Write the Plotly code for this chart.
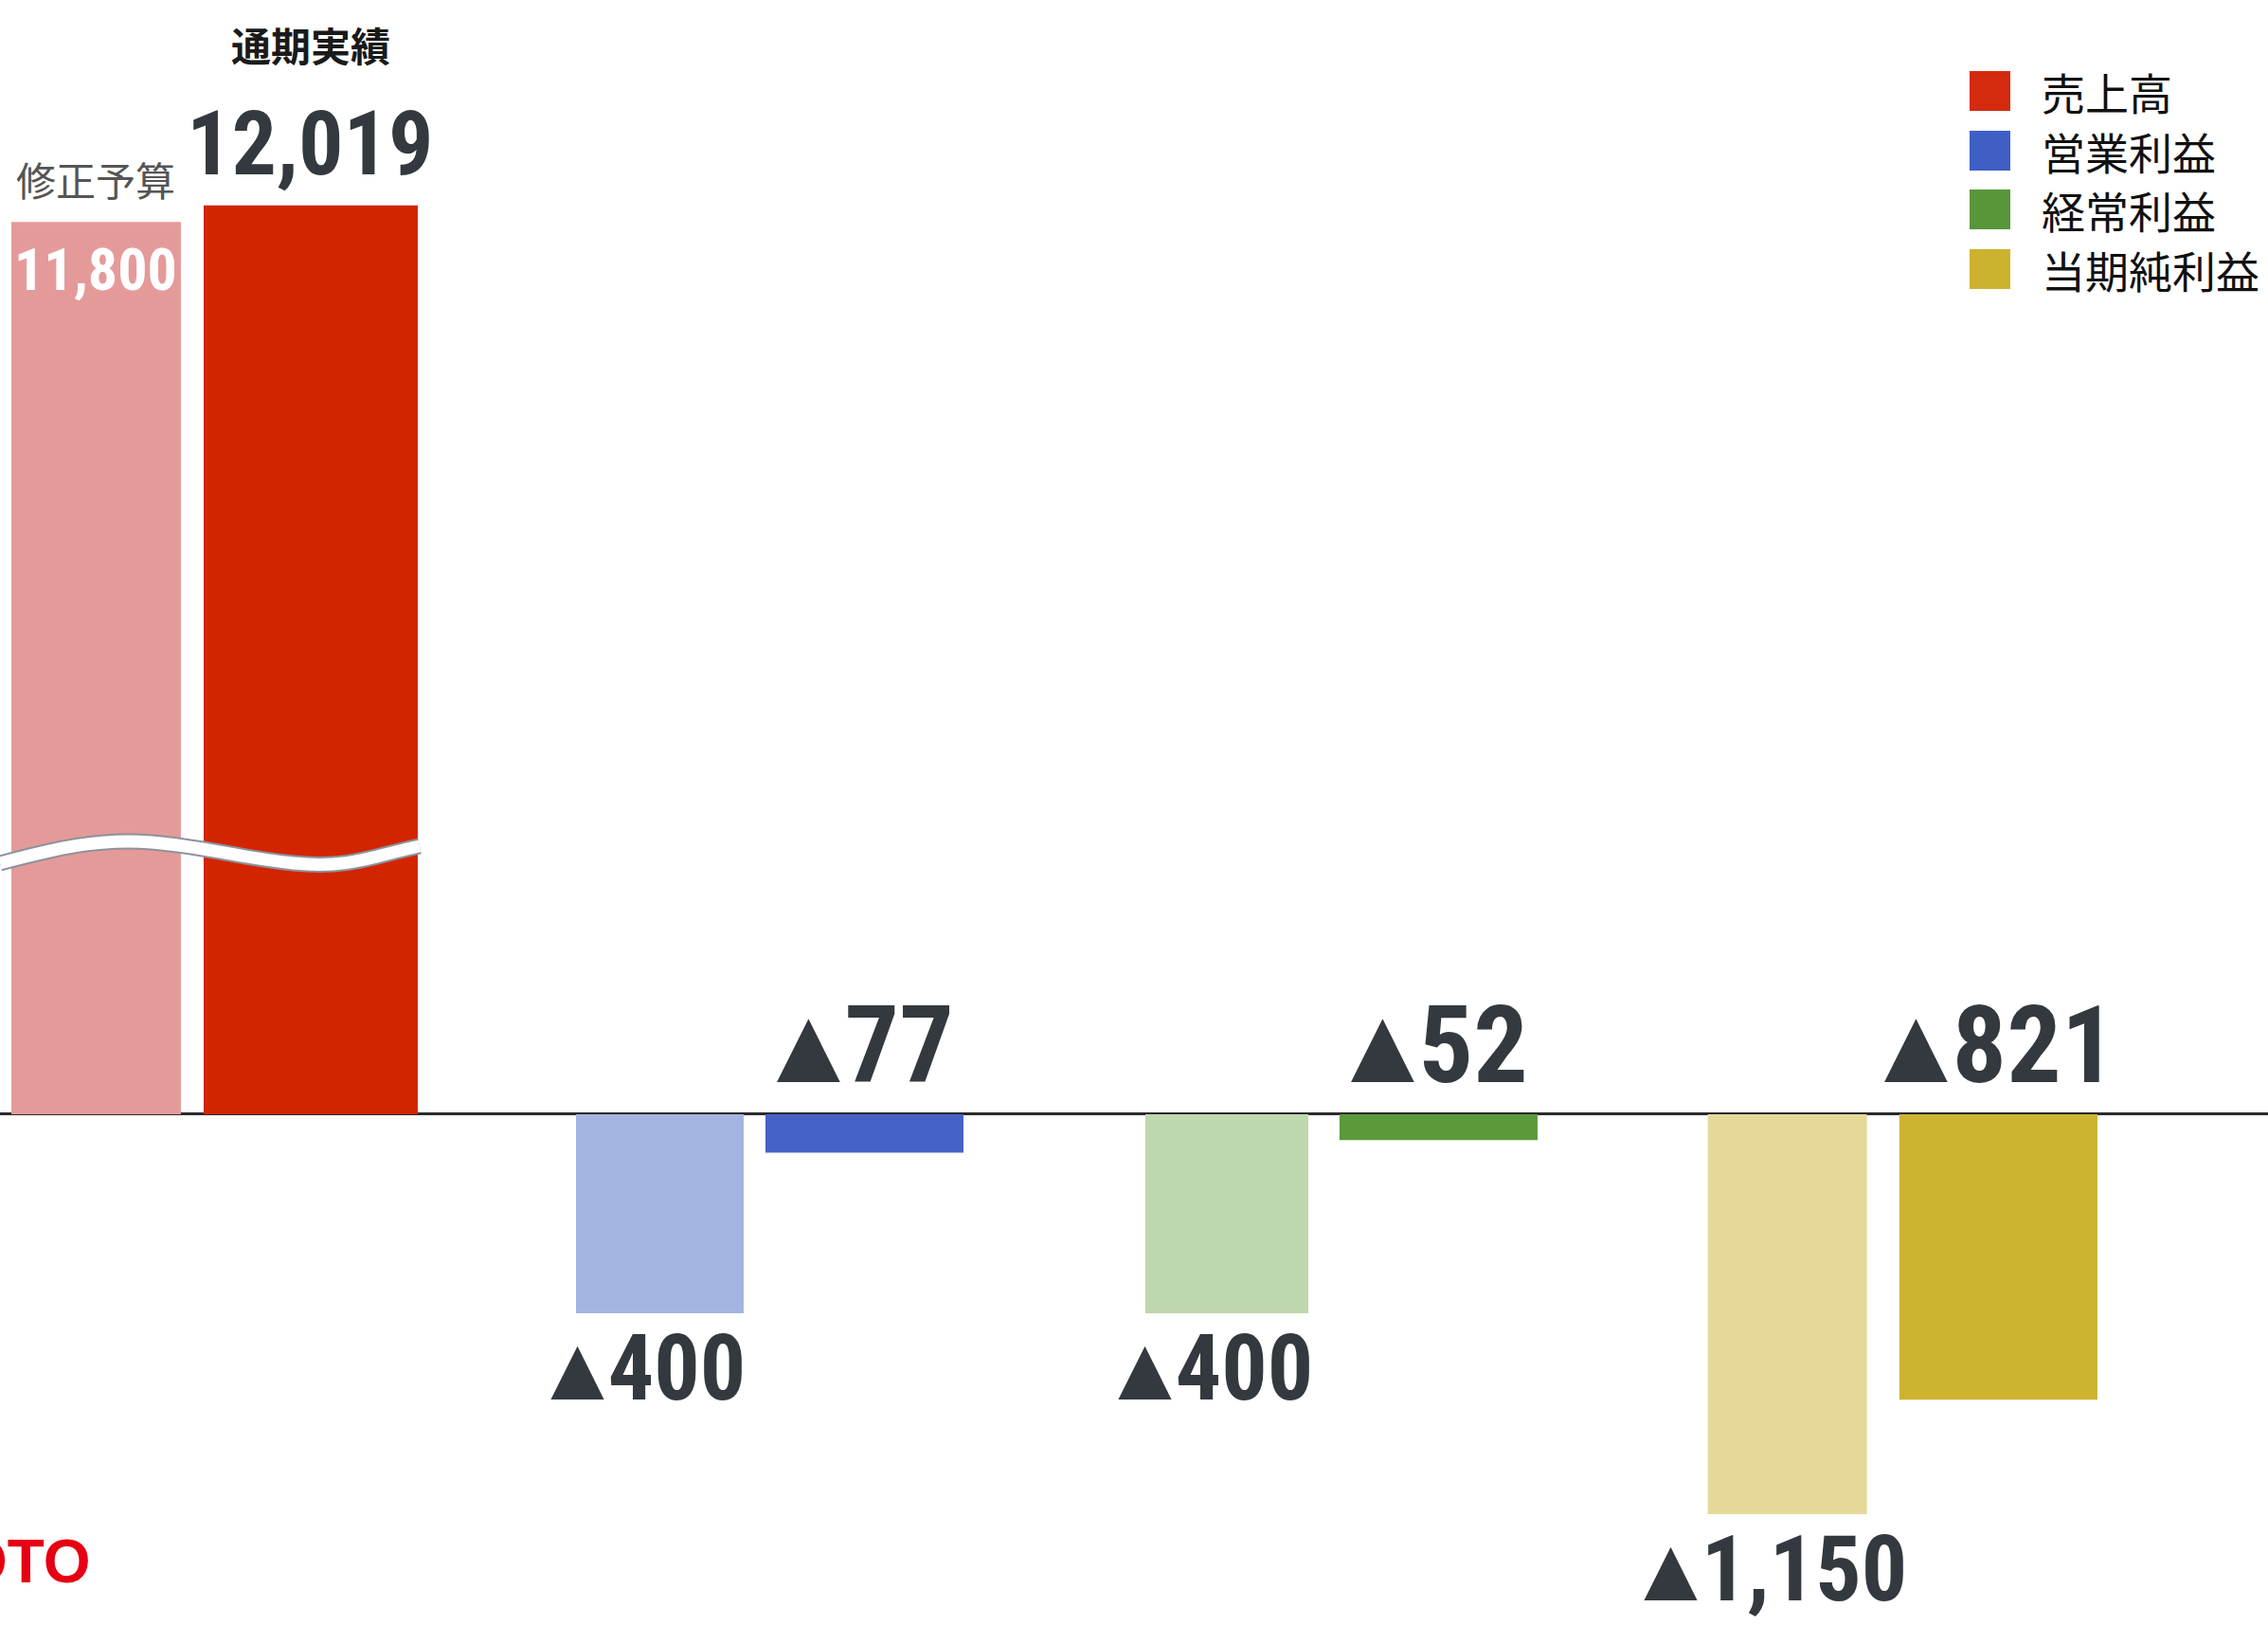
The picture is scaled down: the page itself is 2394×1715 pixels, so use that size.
import plotly.graph_objects as go

# ---------------- data ----------------
categories = ["売上高", "営業利益", "経常利益", "当期純利益"]
budget = [11800, -400, -400, -1150]      # 修正予算
actual = [12019, -77, -52, -821]         # 通期実績
budget_name = "修正予算"
actual_name = "通期実績"
legend_names = ["売上高", "営業利益", "経常利益", "当期純利益"]

# ---------------- styles ----------------
W, H = 2394, 1715
budget_colors = ["#E59A9A", "#A4B4E1", "#BFD7AC", "#E5D899"]
actual_colors = ["#D32400", "#4462C7", "#5A9A3A", "#CDB330"]
legend_colors = ["#D42A0E", "#3F5FC4", "#58963A", "#CDB22F"]
axis_of = ["y2", "y", "y", "y3"]          # 売上高 uses a broken (own) scale
budget_offset = [-0.3585, -0.3548, -0.3426, -0.3429]
budget_width = [0.3014, 0.2981, 0.2897, 0.2829]
actual_offset = [-0.0167, -0.0180, 0.0025, -0.0022]
actual_width = [0.3806, 0.3520, 0.3520, 0.3520]

NUM_FONT = "Roboto Condensed, Liberation Sans Narrow, Roboto, sans-serif"
CJK_FONT = "Noto Sans CJK JP, sans-serif"
DARK = "#33393E"


def fmt(v):
    txt = f"{abs(v):,}"
    if v < 0:
        return "<span style='letter-spacing:-0.16em'>▲</span>" + txt
    return txt


fig = go.Figure()
for i, cat in enumerate(categories):
    fig.add_trace(go.Bar(
        x=[cat], y=[budget[i]], yaxis=axis_of[i], name=budget_name,
        offset=budget_offset[i], width=budget_width[i],
        marker=dict(color=budget_colors[i], line=dict(width=0)),
        showlegend=False, hoverinfo="x+y"))
    fig.add_trace(go.Bar(
        x=[cat], y=[actual[i]], yaxis=axis_of[i], name=actual_name,
        offset=actual_offset[i], width=actual_width[i],
        marker=dict(color=actual_colors[i], line=dict(width=0)),
        showlegend=False, hoverinfo="x+y"))

annotations = []
for i, cat in enumerate(categories):
    yref = axis_of[i]
    bx = i + budget_offset[i] + budget_width[i] / 2
    ax = i + actual_offset[i] + actual_width[i] / 2
    if budget[i] >= 0:
        # sales: labels above the bars
        annotations += [
            dict(x=bx, y=budget[i], xref="x", yref=yref, text=budget_name,
                 showarrow=False, yanchor="middle", yshift=46,
                 font=dict(family=CJK_FONT, size=42, color="#555555")),
            dict(x=bx, y=budget[i], xref="x", yref=yref, text=fmt(budget[i]),
                 showarrow=False, yanchor="middle", yshift=-50,
                 font=dict(family=NUM_FONT, size=62, color="white", weight="bold")),
            dict(x=ax, y=actual[i], xref="x", yref=yref, text=fmt(actual[i]),
                 showarrow=False, yanchor="middle", yshift=65,
                 font=dict(family=NUM_FONT, size=94, color=DARK, weight="bold")),
            dict(x=ax, y=actual[i], xref="x", yref=yref, text=actual_name,
                 showarrow=False, yanchor="middle", yshift=170,
                 font=dict(family=CJK_FONT, size=42, color="#1A1A1A", weight="bold")),
        ]
    else:
        annotations += [
            dict(x=bx, y=budget[i], xref="x", yref=yref, text=fmt(budget[i]),
                 showarrow=False, yanchor="middle", yshift=-58, xshift=-22,
                 font=dict(family=NUM_FONT, size=96, color=DARK, weight="bold")),
            dict(x=ax, y=0, xref="x", yref=yref, text=fmt(actual[i]),
                 showarrow=False, yanchor="middle", yshift=73, xshift=-10,
                 font=dict(family=NUM_FONT, size=114, color=DARK, weight="bold")),
        ]

# ---------------- legend (drawn manually, large squares) ----------------
def px(x):
    return x / W


def py(y):
    return 1 - y / H


shapes = []
leg_rows = [96, 159, 221, 284]
for name, col, yc in zip(legend_names, legend_colors, leg_rows):
    shapes.append(dict(type="rect", xref="paper", yref="paper",
                       x0=px(2079), x1=px(2122), y0=py(yc + 21), y1=py(yc - 21),
                       fillcolor=col, line=dict(width=0)))
    annotations.append(dict(x=px(2153), y=py(yc), xref="paper", yref="paper",
                            text=name, showarrow=False, xanchor="left", yanchor="middle",
                            font=dict(family=CJK_FONT, size=46, color="#111111")))

# axis-break wave across the sales bars
wave_pts = [(0, 911), (50, 898), (100, 884), (160, 889), (250, 905), (310, 911),
            (395, 903), (443, 893)]
p = wave_pts
path = (f"M {px(p[0][0])},{py(p[0][1])} "
        f"C {px(p[1][0])},{py(p[1][1])} {px(p[2][0])},{py(p[2][1])} {px(p[3][0])},{py(p[3][1])} "
        f"S {px(p[4][0])},{py(p[4][1])} {px(p[5][0])},{py(p[5][1])} "
        f"S {px(p[6][0])},{py(p[6][1])} {px(p[7][0])},{py(p[7][1])}")
shapes.append(dict(type="path", xref="paper", yref="paper", path=path,
                   line=dict(color="#8C939B", width=17)))
shapes.append(dict(type="path", xref="paper", yref="paper", path=path,
                   line=dict(color="white", width=13)))

# cropped logo at bottom-left
annotations.append(dict(x=px(98), y=py(1648), xref="paper", yref="paper", text="OTO",
                        showarrow=False, xanchor="right", yanchor="middle",
                        font=dict(family="Liberation Sans, Arial, sans-serif", size=64,
                                  color="#E60012", weight="bold")))

hidden = dict(showgrid=False, showticklabels=False, zeroline=False, showline=False, ticks="")
fig.update_layout(
    width=W, height=H,
    margin=dict(l=0, r=0, t=0, b=0),
    paper_bgcolor="white", plot_bgcolor="white",
    barmode="overlay", showlegend=False,
    xaxis=dict(type="category", categoryorder="array", categoryarray=categories,
               range=[-0.3787, 3.6530], **hidden),
    yaxis=dict(range=[-1026.7, 2240.0], showgrid=False, showticklabels=False,
               showline=False, ticks="", zeroline=True, zerolinecolor="#2A2A2A",
               zerolinewidth=3),
    yaxis2=dict(range=[-6753.3, 14734.4], overlaying="y", **hidden),
    yaxis3=dict(range=[-1468.7, 3204.4], overlaying="y", **hidden),
    annotations=annotations,
    shapes=shapes,
)

fig.write_html("out.html", config={"displayModeBar": False},
               post_script="document.body.style.margin='0';document.body.style.overflow='hidden';")
